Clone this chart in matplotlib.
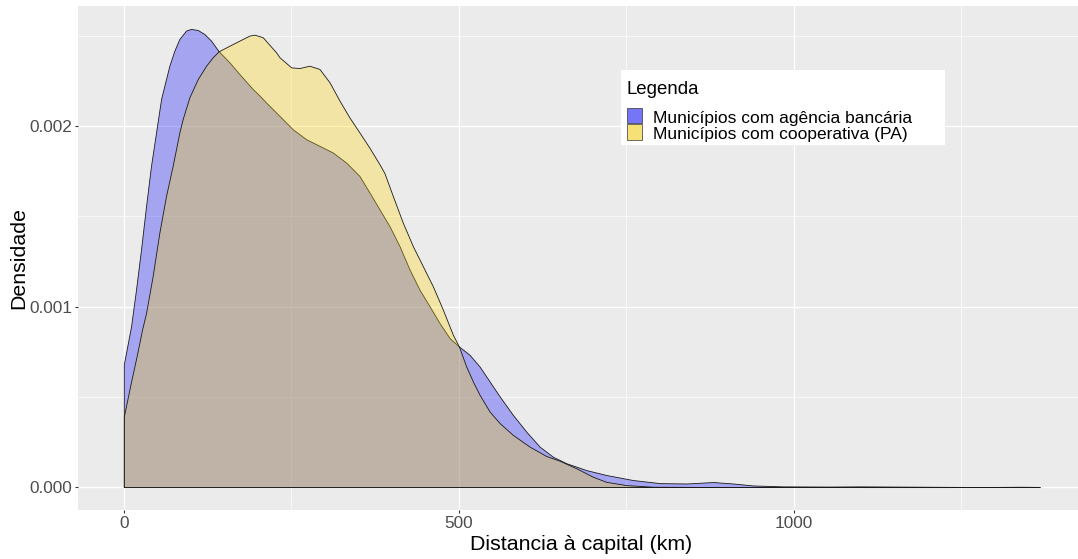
import matplotlib
matplotlib.use("Agg")
import numpy as np
import matplotlib.pyplot as plt
from matplotlib.patches import Rectangle
from matplotlib.colors import to_rgba

plt.rcParams['font.family'] = ['Liberation Sans', 'DejaVu Sans']

series_names = ["Municípios com agência bancária", "Municípios com cooperativa (PA)"]
legend_title = "Legenda"

# densidade estimada (x 1e-3) por distância à capital (km)
agencia_km = [0, 10.8, 18.2, 25.7, 33.2, 40.6, 48.1, 55.6, 60.5, 68, 75.4, 82.9, 92.9, 100.4,
              110.3, 120.2, 130.2, 141.6, 157.6, 172.5, 192.4, 202.4, 212.4, 232.3, 252.1, 272,
              292, 311.9, 331.9, 351.7, 366.7, 381.6, 396.5, 411.5, 426.4, 441.3, 456.3, 471.2,
              486.2, 500, 516, 531, 546, 561, 580.7, 600.7, 620.6, 640.5, 660.5, 690.4, 720,
              760, 800, 840, 879.5, 909, 939, 984, 1050, 1100, 1150, 1200, 1250, 1300, 1340,
              1367]
agencia_dens = [0.68, 0.89, 1.094, 1.317, 1.557, 1.78, 1.965, 2.15, 2.224, 2.335, 2.418, 2.483,
                2.53, 2.539, 2.533, 2.511, 2.474, 2.415, 2.354, 2.289, 2.206, 2.17, 2.131,
                2.057, 1.983, 1.928, 1.891, 1.854, 1.798, 1.724, 1.632, 1.539, 1.446, 1.335,
                1.206, 1.094, 1.002, 0.909, 0.826, 0.78, 0.733, 0.668, 0.585, 0.502, 0.40,
                0.307, 0.224, 0.168, 0.132, 0.094, 0.067, 0.039, 0.022, 0.020, 0.028, 0.020,
                0.009, 0.004, 0.003, 0.004, 0.003, 0.002, 0.001, 0.001, 0.002, 0.001]

coop_km = [0, 10, 20, 27.2, 33.2, 43, 53, 63, 72.9, 82.9, 87.8, 97.8, 110.3, 122.8, 132.7,
           141.6, 157.6, 172.5, 187.5, 195, 207.3, 217.3, 227.3, 232.3, 249.7, 262, 277, 292,
           307, 322, 336.8, 351.7, 366.7, 381.6, 389, 401.5, 416.4, 431.4, 446.3, 461.2,
           476.2, 491.1, 500, 511, 521, 531, 546, 561, 580.7, 605.7, 630.6, 650.5, 675.4,
           700.2, 720, 750, 790, 850, 950, 1100, 1240]
coop_dens = [0.39, 0.57, 0.74, 0.872, 0.965, 1.168, 1.409, 1.613, 1.78, 1.965, 2.039, 2.159,
             2.261, 2.335, 2.382, 2.415, 2.446, 2.474, 2.502, 2.507, 2.493, 2.451, 2.409,
             2.382, 2.326, 2.322, 2.335, 2.317, 2.243, 2.141, 2.048, 1.965, 1.88, 1.789, 1.74,
             1.613, 1.465, 1.335, 1.224, 1.113, 0.983, 0.844, 0.78, 0.668, 0.585, 0.511,
             0.418, 0.354, 0.289, 0.224, 0.172, 0.146, 0.104, 0.057, 0.029, 0.011, 0.002,
             0.001, 0.001, 0.0, 0.0]

fill_cols = [to_rgba("blue", 0.3), to_rgba("gold", 0.3)]
key_cols = ["#7575F5", "#F5E176"]

xs = [np.array(agencia_km), np.array(coop_km)]
ys = [np.array(agencia_dens) * 1e-3, np.array(coop_dens) * 1e-3]

W, H = 1078, 559
fig = plt.figure(figsize=(W / 100, H / 100), dpi=100)
ax = fig.add_axes([78 / W, 1 - 510 / H, 1007.6 / W, 504 / H])
ax.set_facecolor("#EBEBEB")

for x, y, c in zip(xs, ys, fill_cols):
    ax.fill_between(x, y, 0, facecolor=c, edgecolor="#1a1a1a", lw=0.6, zorder=3)

xmax = max(x.max() for x in xs)
ymax = max(y.max() for y in ys)
ax.set_xlim(-0.05 * xmax, 1.05 * xmax)
ax.set_ylim(-0.05 * ymax, 1.05 * ymax)

ax.set_xticks([0, 500, 1000])
ax.set_xticks([250, 750, 1250], minor=True)
ax.set_yticks([0, 0.001, 0.002])
ax.set_yticks([0.0005, 0.0015, 0.0025], minor=True)
ax.set_yticklabels(["0.000", "0.001", "0.002"])
ax.grid(which="major", color="white", lw=1.0, zorder=0)
ax.grid(which="minor", color="white", lw=0.5, zorder=0)
ax.set_axisbelow(True)
for s in ax.spines.values():
    s.set_visible(False)
ax.tick_params(which="major", length=2.5, width=0.8, color="#333333",
               labelsize=12.4, labelcolor="#4D4D4D", pad=1.8)
ax.tick_params(which="minor", length=0)

ax.set_xlabel("Distancia à capital (km)", fontsize=15.4, color="black")
ax.set_ylabel("Densidade", fontsize=15.4, color="black")
ax.xaxis.set_label_coords((581.5 - 78) / 1007.6, -(544 - 510) / 504)
ax.xaxis.label.set_va("center")
ax.yaxis.set_label_coords((19 - 78) / 1007.6, (510 - 258) / 504)
ax.yaxis.label.set_va("center")

# legenda desenhada à mão, no estilo do ggplot
fig.add_artist(Rectangle((621 / W, 1 - 145 / H), 324 / W, 75 / H, transform=fig.transFigure,
                         facecolor="white", edgecolor="none", zorder=5))
fig.text(627 / W, 1 - 94 / H, legend_title, fontsize=13.4, va="baseline", ha="left", zorder=6)
key_tops = [108, 124]
for name, col, top in zip(series_names, key_cols, key_tops):
    fig.add_artist(Rectangle((627 / W, 1 - (top + 15.5) / H), 15 / W, 15.5 / H,
                             transform=fig.transFigure, facecolor=col,
                             edgecolor="#333333", lw=0.5, zorder=6))
    fig.text(653 / W, 1 - (top + 14.7) / H, name, fontsize=12.5, va="baseline",
             ha="left", zorder=6)

fig.savefig("out.png", dpi=100)
